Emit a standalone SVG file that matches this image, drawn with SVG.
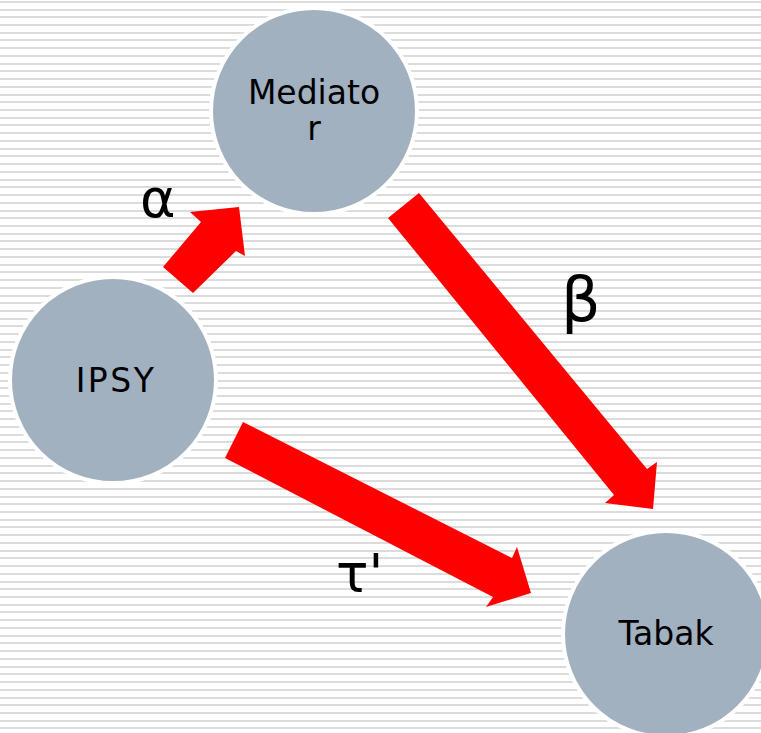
<svg xmlns="http://www.w3.org/2000/svg" width="761" height="733" viewBox="0 0 761 733">
  <defs>
    <style>
      .stripes { fill: #dcdcdc; }
      .node { fill: #a2b1c0; stroke: #ffffff; stroke-width: 4; }
      .lbl { font-family: "DejaVu Sans", Verdana, sans-serif; font-size: 33px; fill: #000; text-anchor: middle; }
      .greek { font-family: "DejaVu Sans", sans-serif; fill: #000; }
      .arrow { fill: #ff0000; }
    </style>
  </defs>
  <rect x="0" y="0" width="761" height="733" fill="#ffffff"/>
  <path class="stripes" d="M0 1h761v2H0z M0 9h761v2H0z M0 16h761v2H0z M0 24h761v2H0z M0 32h761v2H0z M0 39h761v2H0z M0 47h761v2H0z M0 55h761v2H0z M0 63h761v2H0z M0 70h761v2H0z M0 78h761v2H0z M0 86h761v2H0z M0 94h761v2H0z M0 101h761v2H0z M0 109h761v2H0z M0 117h761v2H0z M0 124h761v2H0z M0 132h761v2H0z M0 140h761v2H0z M0 148h761v2H0z M0 155h761v2H0z M0 163h761v2H0z M0 171h761v2H0z M0 179h761v2H0z M0 186h761v2H0z M0 194h761v2H0z M0 202h761v2H0z M0 210h761v2H0z M0 217h761v2H0z M0 225h761v2H0z M0 233h761v2H0z M0 240h761v2H0z M0 248h761v2H0z M0 256h761v2H0z M0 264h761v2H0z M0 271h761v2H0z M0 279h761v2H0z M0 287h761v2H0z M0 295h761v2H0z M0 302h761v2H0z M0 310h761v2H0z M0 318h761v2H0z M0 325h761v2H0z M0 333h761v2H0z M0 341h761v2H0z M0 349h761v2H0z M0 356h761v2H0z M0 364h761v2H0z M0 372h761v2H0z M0 380h761v2H0z M0 387h761v2H0z M0 395h761v2H0z M0 403h761v2H0z M0 410h761v2H0z M0 418h761v2H0z M0 426h761v2H0z M0 434h761v2H0z M0 441h761v2H0z M0 449h761v2H0z M0 457h761v2H0z M0 465h761v2H0z M0 472h761v2H0z M0 480h761v2H0z M0 488h761v2H0z M0 496h761v2H0z M0 503h761v2H0z M0 511h761v2H0z M0 519h761v2H0z M0 526h761v2H0z M0 534h761v2H0z M0 542h761v2H0z M0 550h761v2H0z M0 557h761v2H0z M0 565h761v2H0z M0 573h761v2H0z M0 581h761v2H0z M0 588h761v2H0z M0 596h761v2H0z M0 604h761v2H0z M0 611h761v2H0z M0 619h761v2H0z M0 627h761v2H0z M0 635h761v2H0z M0 642h761v2H0z M0 650h761v2H0z M0 658h761v2H0z M0 666h761v2H0z M0 673h761v2H0z M0 681h761v2H0z M0 689h761v2H0z M0 697h761v2H0z M0 704h761v2H0z M0 712h761v2H0z M0 720h761v2H0z M0 727h761v2H0z"/>

  <g id="connectors">
    <polygon class="arrow" points="163,267 201,222 190,212 239,207 245,256 236,251 193,293"/>
    <polygon class="arrow" points="419,193 647,469 657,462 653,509 605,503 614,495 388,218"/>
    <polygon class="arrow" points="243,422 512,558 517,547 531,593 486,607 493,597 225,458"/>
  </g>

  <g id="node-mediator">
    <circle class="node" cx="314" cy="111" r="103"/>
    <text class="lbl" x="314" y="104">Mediato</text>
    <text class="lbl" x="314" y="140">r</text>
  </g>
  <g id="node-ipsy">
    <circle class="node" cx="113" cy="380" r="103"/>
    <text class="lbl" x="116" y="392" letter-spacing="2.5">IPSY</text>
  </g>
  <g id="node-tabak">
    <circle class="node" cx="666" cy="634" r="103"/>
    <text class="lbl" x="666" y="645">Tabak</text>
  </g>

  <g id="labels">
    <text class="greek" x="140" y="217" font-size="54">α</text>
    <text class="greek" x="561" y="321" font-size="62">β</text>
    <text class="greek" x="336" y="592" font-size="54">τ'</text>
  </g>
</svg>
